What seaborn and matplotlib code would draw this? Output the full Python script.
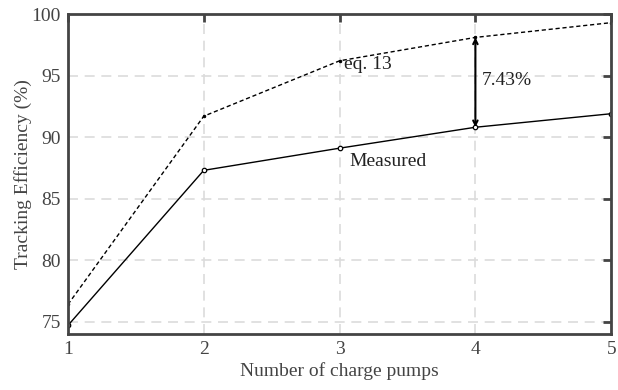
import matplotlib
matplotlib.use("Agg")
import matplotlib.pyplot as plt
import seaborn as sns
import pandas as pd

pumps = [1, 2, 3, 4, 5]
measured = [74.7, 87.3, 89.1, 90.8, 91.9]
eq13 = [76.4, 91.7, 96.2, 98.1, 99.3]

sns.set_style("white")
plt.rcParams['font.family'] = ['Liberation Serif', 'DejaVu Serif']

fig = plt.figure(figsize=(6.18, 3.9), dpi=100)
ax = fig.add_axes([0.110, 0.1436, 0.879, 0.8204])

df_m = pd.DataFrame({"x": pumps, "y": measured})
df_e = pd.DataFrame({"x": pumps, "y": eq13})
sns.lineplot(data=df_e, x="x", y="y", ax=ax, color="black", linestyle=(0, (3, 2)),
             linewidth=1.0, marker=".", markersize=3.5, markeredgecolor="black")
sns.lineplot(data=df_m, x="x", y="y", ax=ax, color="black", linewidth=1.0,
             marker="o", markersize=3.2, markerfacecolor="white", markeredgecolor="black",
             markeredgewidth=0.9)

ax.set_xlim(1, 5)
ax.set_ylim(74, 100)
ax.set_xticks(pumps)
ax.set_yticks([75, 80, 85, 90, 95, 100])
ax.grid(True, color="#dcdcdc", linestyle=(0, (6, 4)), linewidth=1.2)
ax.set_axisbelow(True)
for s in ax.spines.values():
    s.set_color("#444444")
    s.set_linewidth(2.0)
ax.tick_params(direction="in", length=6, width=2, color="#444444",
               labelcolor="#444444", labelsize=14, top=True, right=True, pad=5)
ax.set_xlabel("Number of charge pumps", fontsize=14, color="#444444", labelpad=3)
ax.set_ylabel("Tracking Efficiency (%)", fontsize=14, color="#444444", labelpad=0)

ax.annotate("", xy=(4, measured[3]), xytext=(4, eq13[3]),
            arrowprops=dict(arrowstyle="<->", color="black", lw=1.5,
                            shrinkA=0, shrinkB=0, mutation_scale=8))
ax.text(4.05, 94.6, "7.43%", fontsize=14, color="#222222", va="center")
ax.text(3.03, 95.9, "eq. 13", fontsize=14, color="#222222", va="center")
ax.text(3.07, 88.0, "Measured", fontsize=14, color="#222222", va="center")

fig.savefig("out.png", dpi=100)
